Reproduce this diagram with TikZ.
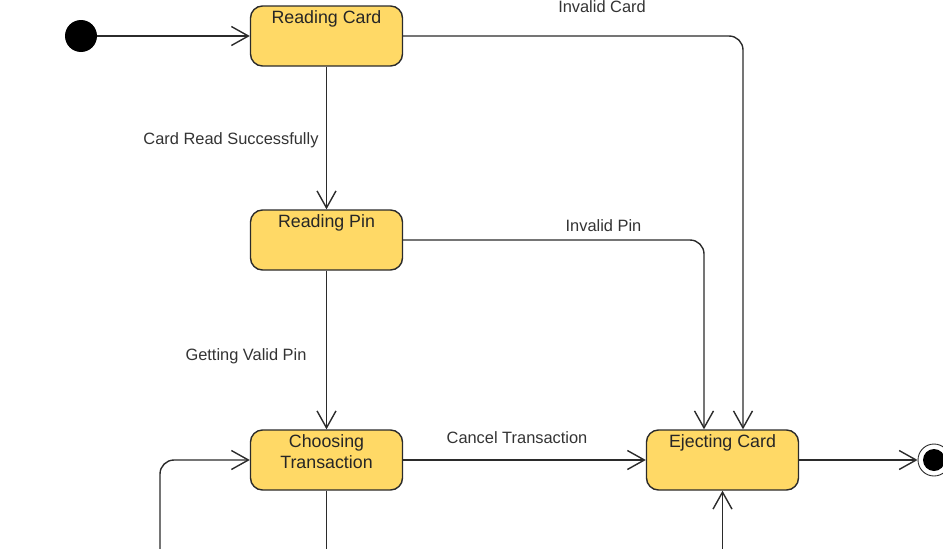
\documentclass[tikz,border=0pt]{standalone}
\usepackage{fontspec}
\setmainfont{Liberation Sans}
\usepackage{xcolor}
\definecolor{stateyellow}{HTML}{FFD966}
\definecolor{edgeline}{HTML}{2B2B2B}
\definecolor{labelgrey}{HTML}{333333}
\usepackage{tikz}
\usetikzlibrary{arrows.meta,positioning}
\newcommand{\statefont}{\fontsize{17.8}{21.4}\selectfont}
\newcommand{\edgefont}{\fontsize{16.4}{19.7}\selectfont}

\begin{document}
\begin{tikzpicture}[
  x=1pt, y=-1pt,
  state/.style={rectangle, rounded corners=12pt, draw=edgeline, fill=stateyellow,
    line width=1.4pt, minimum width=152pt, inner sep=0pt, align=center,
    text height=17pt, text depth=43pt, font=\statefont, text=black!85},
  trans/.style={-{Straight Barb[length=17pt, width=19pt, line width=1.4pt]}, line width=1.4pt, color=edgeline},
  plain/.style={line width=1.4pt, color=edgeline},
  elabel/.style={font=\edgefont, text=labelgrey, anchor=base, inner sep=0pt}
]
\useasboundingbox (0,0) rectangle (943,549);

% States
\node[state] (readcard) at (326.5, 36) {Reading Card};
\node[state] (readpin)  at (326.5, 240) {Reading Pin};
\node[state, text height=38.4pt, text depth=21.6pt] (choose) at (326.5, 460) {Choosing\\Transaction};
\node[state] (eject)    at (722.5, 460) {Ejecting Card};

% Initial and final states
\node[circle, fill=black, minimum size=32pt, inner sep=0pt] (init) at (81, 36) {};
\node[circle, draw=edgeline, line width=0.9pt, fill=white, minimum size=32pt, inner sep=0pt] (final) at (934, 460) {};
\fill[black] (final.center) circle (11);

% Open ends below the frame
\coordinate (loopin) at (160, 580);
\coordinate (chooseout) at (326.5, 580);
\coordinate (ejectin) at (722.5, 580);

% Transitions
\draw[trans] (init) -- (readcard);
\draw[trans] (readcard) -- (readpin);
\draw[trans] (readpin) -- (choose);
\draw[trans] (choose) -- (eject);
\draw[trans] (eject) -- (final);
\draw[trans, rounded corners=14pt] (readcard.east) -| ([xshift=20.5pt]eject.north);
\draw[trans, rounded corners=14pt] (readpin.east) -| ([xshift=-18.5pt]eject.north);
\draw[trans, rounded corners=14pt] (loopin) |- (choose.west);
\draw[plain] (choose.south) -- (chooseout);
\draw[trans] (ejectin) -- (eject.south);

% Transition labels
\node[elabel] (lblinvcard) at (602, 12) {Invalid Card};
\node[elabel] (lblread)    at (231, 144) {Card Read Successfully};
\node[elabel] (lblinvpin)  at (603.5, 231) {Invalid Pin};
\node[elabel] (lblvalid)   at (246, 360) {Getting Valid Pin};
\node[elabel] (lblcancel)  at (517, 443) {Cancel Transaction};

\end{tikzpicture}
\end{document}
